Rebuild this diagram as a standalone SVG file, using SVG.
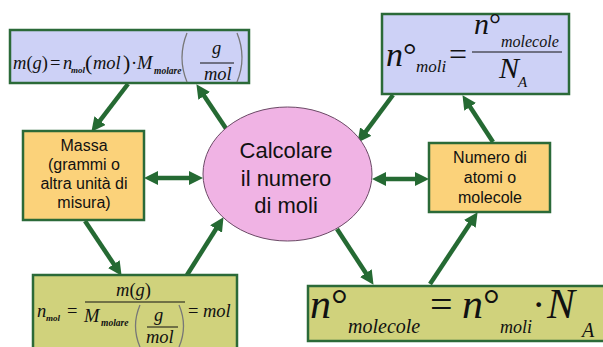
<svg xmlns="http://www.w3.org/2000/svg" width="603" height="347" viewBox="0 0 603 347">
<defs>
<style>
.box{stroke:#2b6a38;stroke-width:2.5}
.blue{fill:#cdd1f6}
.orange{fill:#fbd27a}
.olive{fill:#d0d27c}
.lbl{font-family:"Liberation Sans",Arial,sans-serif;fill:#111;text-anchor:middle}
.m{font-family:"Liberation Serif","Times New Roman",serif;font-style:italic;fill:#111}
.r{font-family:"Liberation Serif","Times New Roman",serif;font-style:normal;fill:#111}
.sb{font-family:"Liberation Serif","Times New Roman",serif;font-style:italic;font-weight:bold;fill:#111}
.fl{stroke:#111;stroke-width:1}
.bp{fill:none;stroke:#777;stroke-width:1.3}
.arr{stroke:#256a33;stroke-width:4.5;fill:none;marker-end:url(#ah)}
.dbl{marker-start:url(#ah)}
</style>
<marker id="ah" markerUnits="userSpaceOnUse" markerWidth="14" markerHeight="14" viewBox="0 0 14 14" refX="5" refY="7" orient="auto-start-reverse">
<path d="M0,0 L14,7 L0,14 z" fill="#256a33"/>
</marker>
</defs>
<rect width="603" height="347" fill="#fff"/>

<g id="connectors">
<line class="arr" x1="128" y1="84" x2="96.9" y2="124.6"/>
<line class="arr" x1="227" y1="130" x2="201.4" y2="91.7"/>
<line class="arr" x1="393" y1="95" x2="362.8" y2="135.6"/>
<line class="arr" x1="493" y1="142" x2="467.4" y2="102.7"/>
<line class="arr dbl" x1="153" y1="178" x2="194" y2="178"/>
<line class="arr dbl" x1="381" y1="179" x2="420" y2="179"/>
<line class="arr" x1="85" y1="221" x2="116.6" y2="268.3"/>
<line class="arr" x1="187" y1="275" x2="218.7" y2="224.8"/>
<line class="arr" x1="337" y1="229" x2="368.6" y2="277.3"/>
<line class="arr" x1="430" y1="284" x2="472.6" y2="219.7"/>
</g>

<g id="formula-massa">
<rect class="box blue" x="10" y="30" width="239" height="53"/>
<text class="m" font-size="18.5" y="69"><tspan x="13">m</tspan><tspan class="r">(</tspan><tspan>g</tspan><tspan class="r">)</tspan></text>
<text class="r" font-size="18.5" x="50" y="69">=</text>
<text class="m" font-size="18.5" x="63" y="69">n</text>
<text class="sb" font-size="9" x="71" y="73">mol</text>
<text class="r" font-size="22" x="85" y="70">(</text>
<text class="m" font-size="18.5" x="93" y="69">mol</text>
<text class="r" font-size="22" x="123" y="70">)</text>
<text class="r" font-size="18.5" x="131" y="69">·</text>
<text class="m" font-size="18.5" x="137" y="69">M</text>
<text class="sb" font-size="9.5" x="154" y="74">molare</text>
<path class="bp" d="M187,33 Q177,57.5 187,82"/>
<text class="m" font-size="18.5" x="212" y="54">g</text>
<line class="fl" x1="200" y1="63" x2="234" y2="63"/>
<text class="m" font-size="18.5" x="204" y="80">mol</text>
<path class="bp" d="M237,33 Q247,57.5 237,82"/>
</g>

<g id="formula-moli">
<rect class="box blue" x="382" y="14" width="187" height="80"/>
<text class="m" font-size="34" x="386" y="66">n<tspan class="r">°</tspan></text>
<text class="m" font-size="17" x="416" y="72">moli</text>
<text class="r" font-size="32" x="449" y="65">=</text>
<text class="m" font-size="30" x="474" y="34">n<tspan class="r">°</tspan></text>
<text class="m" font-size="16" x="501" y="47">molecole</text>
<line class="fl" x1="472" y1="52" x2="562" y2="52" stroke-width="1.5"/>
<text class="m" font-size="30" x="499" y="78">N</text>
<text class="m" font-size="15" x="518" y="87">A</text>
</g>

<g id="massa">
<rect class="box orange" x="23" y="131" width="121" height="89"/>
<text class="lbl" font-size="16" x="84" y="151">Massa</text>
<text class="lbl" font-size="16" x="84" y="170">(grammi o</text>
<text class="lbl" font-size="16" x="84" y="189">altra unità di</text>
<text class="lbl" font-size="16" x="84" y="208">misura)</text>
</g>

<g id="calcolare">
<ellipse cx="287.5" cy="174" rx="84.5" ry="67" fill="#f0b3e4" stroke="#6b4a66" stroke-width="1"/>
<text class="lbl" font-size="22" x="286" y="158">Calcolare</text>
<text class="lbl" font-size="22" x="286" y="186">il numero</text>
<text class="lbl" font-size="22" x="286" y="213">di moli</text>
</g>

<g id="numero">
<rect class="box orange" x="429" y="143" width="121" height="69"/>
<text class="lbl" font-size="16" x="490" y="163">Numero di</text>
<text class="lbl" font-size="16" x="490" y="183">atomi o</text>
<text class="lbl" font-size="16" x="490" y="203">molecole</text>
</g>

<g id="formula-nmol">
<rect class="box olive" x="33" y="275" width="204" height="80"/>
<text class="m" font-size="18.5" x="37" y="317">n</text>
<text class="sb" font-size="9" x="46" y="321">mol</text>
<text class="r" font-size="18.5" x="67" y="317">=</text>
<text class="m" font-size="18.5" y="296"><tspan x="116">m</tspan><tspan class="r">(</tspan><tspan>g</tspan><tspan class="r">)</tspan></text>
<line class="fl" x1="85" y1="302" x2="185" y2="302"/>
<text class="m" font-size="18.5" x="84" y="322">M</text>
<text class="sb" font-size="9.5" x="101" y="326">molare</text>
<path class="bp" d="M140,305 Q131,326 140,347"/>
<text class="m" font-size="18.5" x="154" y="321">g</text>
<line class="fl" x1="147" y1="327" x2="178" y2="327"/>
<text class="m" font-size="18.5" x="146" y="343">mol</text>
<path class="bp" d="M179,305 Q188,326 179,347"/>
<text class="r" font-size="18.5" x="188" y="317">=</text>
<text class="m" font-size="18.5" x="203" y="317">mol</text>
</g>

<g id="formula-nmolecole">
<rect class="box olive" x="308" y="286" width="300" height="55"/>
<text class="m" font-size="42" x="310" y="318">n<tspan class="r">°</tspan></text>
<text class="m" font-size="20" x="348" y="333">molecole</text>
<text class="r" font-size="40" x="430" y="318">=</text>
<text class="m" font-size="42" x="462" y="318">n<tspan class="r">°</tspan></text>
<text class="m" font-size="18" x="500" y="333">moli</text>
<text class="r" font-size="40" x="532" y="318">·</text>
<text class="m" font-size="42" x="547" y="318">N</text>
<text class="m" font-size="20" x="582" y="337">A</text>
</g>
</svg>
